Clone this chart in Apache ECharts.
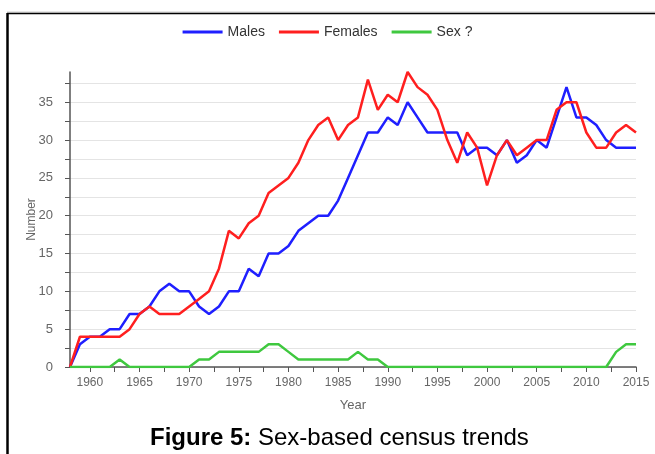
<!DOCTYPE html>
<html>
<head>
<meta charset="utf-8">
<script src="https://cdn.jsdelivr.net/npm/echarts@6/dist/echarts.min.js"></script>
<style>
  html, body { margin: 0; padding: 0; background: #fff; }
  #chart { width: 655px; height: 454px; }
</style>
</head>
<body>
<div id="chart"></div>
<script>
// census counts per year
var years = [];
for (var y = 1958; y <= 2015; y++) years.push(y);

var males = [0, 3, 4, 4, 5, 5, 7, 7, 8, 10, 11, 10, 10, 8, 7, 8, 10, 10, 13, 12,
    15, 15, 16, 18, 19, 20, 20, 22, 25, 28, 31, 31, 33, 32, 35, 33, 31, 31, 31, 31,
    28, 29, 29, 28, 30, 27, 28, 30, 29, 33, 37, 33, 33, 32, 30, 29, 29, 29];
var females = [0, 4, 4, 4, 4, 4, 5, 7, 8, 7, 7, 7, 8, 9, 10, 13, 18, 17, 19, 20,
    23, 24, 25, 27, 30, 32, 33, 30, 32, 33, 38, 34, 36, 35, 39, 37, 36, 34, 30, 27,
    31, 29, 24, 28, 30, 28, 29, 30, 30, 34, 35, 35, 31, 29, 29, 31, 32, 31];
var unknown = [0, 0, 0, 0, 0, 1, 0, 0, 0, 0, 0, 0, 0, 1, 1, 2, 2, 2, 2, 2,
    3, 3, 2, 1, 1, 1, 1, 1, 1, 2, 1, 1, 0, 0, 0, 0, 0, 0, 0, 0,
    0, 0, 0, 0, 0, 0, 0, 0, 0, 0, 0, 0, 0, 0, 0, 2, 3, 3];

var xLabels = [1960, 1965, 1970, 1975, 1980, 1985, 1990, 1995, 2000, 2005, 2010, 2015];
var xTicks = [1960, 1962.5, 1965, 1967.5, 1970, 1972.5, 1975, 1977.5, 1980, 1982.5, 1985,
    1987.5, 1990, 1992.5, 1995, 1997.5, 2000, 2002.5, 2005, 2007.5, 2010, 2012.5, 2015];
var yTicks = [0, 2.5, 5, 7.5, 10, 12.5, 15, 17.5, 20, 22.5, 25, 27.5, 30, 32.5, 35, 37.5];

function pairs(vals) {
    return years.map(function (yr, i) { return [yr, vals[i]]; });
}

var chart = echarts.init(document.getElementById('chart'));

var axisColor = '#666';
var option = {
    animation: false,
    textStyle: { fontFamily: 'Liberation Sans, Arial, sans-serif' },
    legend: {
        top: 20,
        left: 'center',
        itemWidth: 40,
        itemHeight: 3,
        itemGap: 14,
        icon: 'rect',
        textStyle: { fontSize: 14, color: '#333' },
        data: ['Males', 'Females', 'Sex ?']
    },
    title: {
        text: '{b|Figure 5:} Sex-based census trends',
        left: 145,
        top: 421,
        textStyle: {
            fontSize: 24,
            fontWeight: 'normal',
            color: '#000',
            rich: { b: { fontSize: 24, fontWeight: 'bold', color: '#000' } }
        }
    },
    graphic: [
        { type: 'line', shape: { x1: 7, y1: 12, x2: 655, y2: 12 }, style: { stroke: '#ccc', lineWidth: 1 } },
        { type: 'line', shape: { x1: 7, y1: 13.5, x2: 655, y2: 13.5 }, style: { stroke: '#000', lineWidth: 1.5 } },
        { type: 'line', shape: { x1: 7.5, y1: 13, x2: 7.5, y2: 454 }, style: { stroke: '#000', lineWidth: 2.5 } }
    ],
    grid: { left: 70, right: 19, top: 72, bottom: 87 },
    xAxis: {
        type: 'value',
        min: 1958,
        max: 2015,
        name: 'Year',
        nameLocation: 'middle',
        nameGap: 32,
        nameTextStyle: { color: axisColor, fontSize: 13 },
        axisLine: { show: true, lineStyle: { color: '#555', width: 1.5 } },
        axisTick: { show: true, customValues: xTicks, length: 5, lineStyle: { color: '#555' } },
        axisLabel: {
            customValues: xLabels, color: axisColor, fontSize: 12, margin: 10,
            formatter: function (v) { return String(v); }
        },
        splitLine: { show: false }
    },
    yAxis: {
        type: 'value',
        min: 0,
        max: 39,
        interval: 5,
        name: 'Number',
        nameLocation: 'middle',
        nameRotate: 90,
        nameGap: 32,
        nameMoveOverlap: false,
        nameTextStyle: { color: axisColor, fontSize: 12 },
        axisLine: { show: true, lineStyle: { color: '#555', width: 1.5 } },
        axisTick: { show: true, customValues: yTicks, length: 5, lineStyle: { color: '#555' } },
        axisLabel: { color: axisColor, fontSize: 13, margin: 17, showMaxLabel: false },
        splitLine: { show: true, lineStyle: { color: '#e4e4e4', width: 1 } }
    },
    series: [
        { name: 'Males', type: 'line', data: pairs(males), showSymbol: false,
          itemStyle: { color: '#1f1fff' }, lineStyle: { width: 2.5, color: '#1f1fff' } },
        { name: 'Females', type: 'line', data: pairs(females), showSymbol: false,
          itemStyle: { color: '#ff1f1f' }, lineStyle: { width: 2.5, color: '#ff1f1f' } },
        { name: 'Sex ?', type: 'line', data: pairs(unknown), showSymbol: false,
          itemStyle: { color: '#3fc83f' }, lineStyle: { width: 2.5, color: '#3fc83f' } }
    ]
};

chart.setOption(option);
</script>
</body>
</html>
